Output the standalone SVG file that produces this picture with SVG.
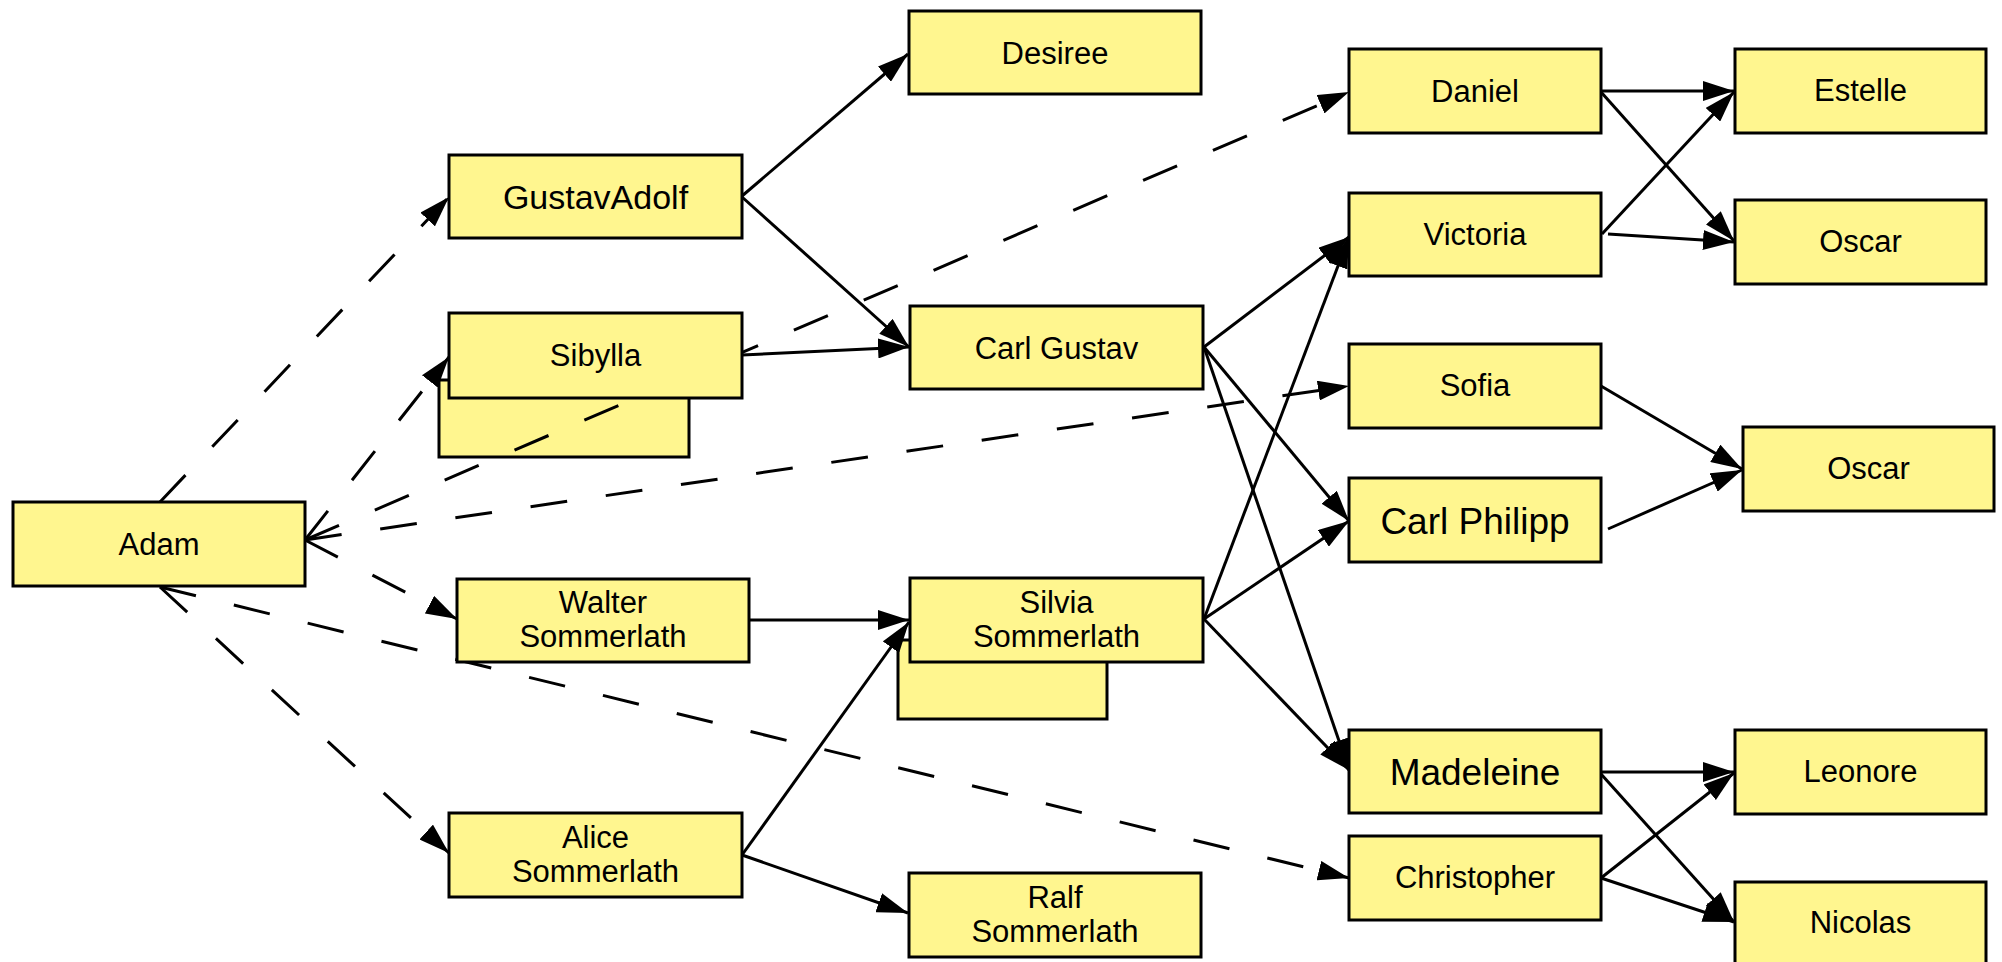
<svg xmlns="http://www.w3.org/2000/svg" width="2002" height="962" viewBox="0 0 2002 962">
<defs>
<style>
.box{fill:#FFF68F;stroke:#000;stroke-width:3}
.lbl{font-family:"Liberation Sans",Arial,sans-serif;font-size:31px;fill:#000;text-anchor:middle}
.e{fill:none;stroke:#000;stroke-width:3;marker-end:url(#arr)}
.d{fill:none;stroke:#000;stroke-width:3;stroke-dasharray:37 39;marker-end:url(#arr)}
</style>
<marker id="arr" viewBox="0 0 31 20" refX="31" refY="10" markerWidth="31" markerHeight="20" markerUnits="userSpaceOnUse" orient="auto">
<path d="M0,0 L31,10 L0,20 z" fill="#000"/>
</marker>
</defs>
<rect width="2002" height="962" fill="#fff"/>
<g id="sibylla-shadow"><rect class="box" x="439" y="380" width="250" height="77"/></g>
<g id="silvia-shadow"><rect class="box" x="898" y="640" width="209" height="79"/></g>
<g id="connectors">
<path class="e" d="M742,196 L908,54"/>
<path class="e" d="M742,197 L909,347"/>
<path class="e" d="M742,355 L909,347"/>
<path class="e" d="M1204,347 L1349,237"/>
<path class="e" d="M1204,347 L1349,521"/>
<path class="e" d="M1204,347 L1349,770"/>
<path class="e" d="M1204,619 L1349,237"/>
<path class="e" d="M1204,619 L1349,521"/>
<path class="e" d="M1204,619 L1349,770"/>
<path class="e" d="M749,620 L909,620"/>
<path class="e" d="M742,855 L909,622"/>
<path class="e" d="M742,855 L908,913"/>
<path class="e" d="M1601,91 L1734,91"/>
<path class="e" d="M1601,92 L1734,241"/>
<path class="e" d="M1602,234 L1734,92"/>
<path class="e" d="M1608,234 L1734,242"/>
<path class="e" d="M1601,386 L1742,469"/>
<path class="e" d="M1608,529 L1742,470"/>
<path class="e" d="M1601,772 L1734,772"/>
<path class="e" d="M1601,774 L1734,922"/>
<path class="e" d="M1601,878 L1734,773"/>
<path class="e" d="M1601,878 L1734,922"/>
<path class="d" d="M160,502 L449,197"/>
<path class="d" d="M305,540 L449,357"/>
<path class="d" d="M305,540 L1349,92"/>
<path class="d" d="M305,540 L1349,386"/>
<path class="d" d="M305,540 L457,619"/>
<path class="d" d="M160,587 L449,853"/>
<path class="d" d="M160,587 L1349,878"/>
</g>
<g id="adam"><rect class="box" x="13" y="502" width="292" height="84"/><text class="lbl" x="159" y="555">Adam</text></g>
<g id="gustavadolf"><rect class="box" x="449" y="155" width="293" height="83"/><text class="lbl" x="595.5" y="209" style="font-size:34px">GustavAdolf</text></g>
<g id="sibylla"><rect class="box" x="449" y="313" width="293" height="85"/><text class="lbl" x="595.5" y="366">Sibylla</text></g>
<g id="walter"><rect class="box" x="457" y="579" width="292" height="83"/><text class="lbl" x="603" y="613">Walter</text><text class="lbl" x="603" y="647">Sommerlath</text></g>
<g id="alice"><rect class="box" x="449" y="813" width="293" height="84"/><text class="lbl" x="595.5" y="848">Alice</text><text class="lbl" x="595.5" y="882">Sommerlath</text></g>
<g id="desiree"><rect class="box" x="909" y="11" width="292" height="83"/><text class="lbl" x="1055" y="64">Desiree</text></g>
<g id="carlgustav"><rect class="box" x="910" y="306" width="293" height="83"/><text class="lbl" x="1056.5" y="359">Carl Gustav</text></g>
<g id="silvia"><rect class="box" x="910" y="578" width="293" height="84"/><text class="lbl" x="1056.5" y="613">Silvia</text><text class="lbl" x="1056.5" y="647">Sommerlath</text></g>
<g id="ralf"><rect class="box" x="909" y="873" width="292" height="84"/><text class="lbl" x="1055" y="908">Ralf</text><text class="lbl" x="1055" y="942">Sommerlath</text></g>
<g id="daniel"><rect class="box" x="1349" y="49" width="252" height="84"/><text class="lbl" x="1475" y="102">Daniel</text></g>
<g id="victoria"><rect class="box" x="1349" y="193" width="252" height="83"/><text class="lbl" x="1475" y="245">Victoria</text></g>
<g id="sofia"><rect class="box" x="1349" y="344" width="252" height="84"/><text class="lbl" x="1475" y="396">Sofia</text></g>
<g id="carlphilipp"><rect class="box" x="1349" y="478" width="252" height="84"/><text class="lbl" x="1475" y="534" style="font-size:37px">Carl Philipp</text></g>
<g id="madeleine"><rect class="box" x="1349" y="730" width="252" height="83"/><text class="lbl" x="1475" y="785" style="font-size:37px">Madeleine</text></g>
<g id="christopher"><rect class="box" x="1349" y="836" width="252" height="84"/><text class="lbl" x="1475" y="888">Christopher</text></g>
<g id="estelle"><rect class="box" x="1735" y="49" width="251" height="84"/><text class="lbl" x="1860.5" y="101">Estelle</text></g>
<g id="oscar1"><rect class="box" x="1735" y="200" width="251" height="84"/><text class="lbl" x="1860.5" y="252">Oscar</text></g>
<g id="oscar2"><rect class="box" x="1743" y="427" width="251" height="84"/><text class="lbl" x="1868.5" y="479">Oscar</text></g>
<g id="leonore"><rect class="box" x="1735" y="730" width="251" height="84"/><text class="lbl" x="1860.5" y="782">Leonore</text></g>
<g id="nicolas"><rect class="box" x="1735" y="882" width="251" height="100"/><text class="lbl" x="1860.5" y="933">Nicolas</text></g>
</svg>
